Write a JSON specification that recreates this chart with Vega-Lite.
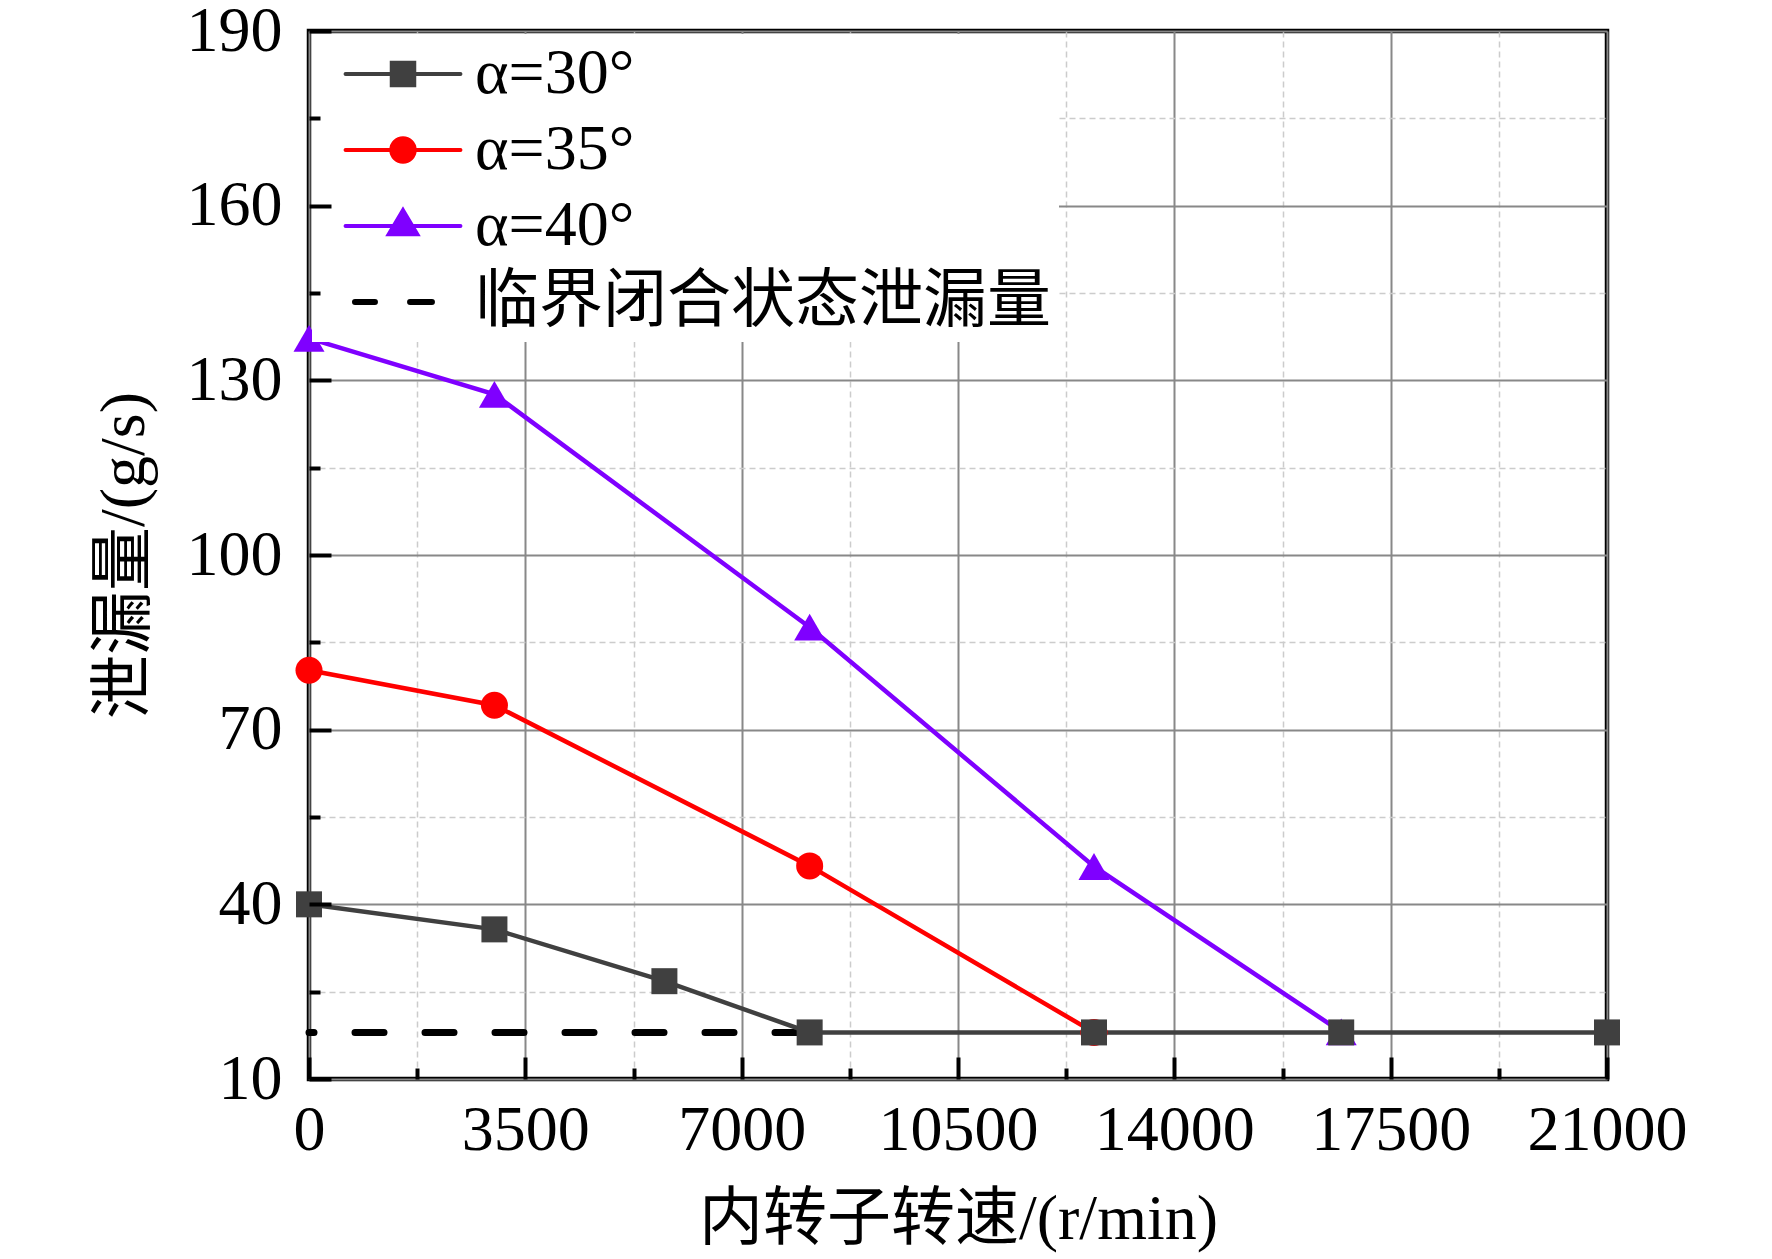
{
  "$schema": "https://vega.github.io/schema/vega-lite/v6.json",
  "width": 1298,
  "height": 1048,
  "autosize": {"type": "none"},
  "padding": {"left": 309, "top": 31, "right": 165, "bottom": 180},
  "background": "white",
  "config": {
    "font": "Liberation Serif, Noto Sans CJK SC",
    "view": {"stroke": "#000000", "strokeWidth": 4.5},
    "axis": {
      "labelFont": "Liberation Serif, Noto Sans CJK SC",
      "labelFontSize": 64,
      "labelColor": "#000000",
      "titleFont": "Liberation Serif, Noto Sans CJK SC",
      "titleFontSize": 64,
      "titleFontWeight": "normal",
      "titleColor": "#000000"
    }
  },
  "data": {
    "values": [
      {"speed": 0, "leak": 137.2, "series": "α=40°"},
      {"speed": 3000, "leak": 127.6, "series": "α=40°"},
      {"speed": 8100, "leak": 87.6, "series": "α=40°"},
      {"speed": 12700, "leak": 46.5, "series": "α=40°"},
      {"speed": 16700, "leak": 18.1, "series": "α=40°"},
      {"speed": 0, "leak": 80.2, "series": "α=35°"},
      {"speed": 3000, "leak": 74.2, "series": "α=35°"},
      {"speed": 8100, "leak": 46.6, "series": "α=35°"},
      {"speed": 12700, "leak": 18.0, "series": "α=35°"},
      {"speed": 0, "leak": 40.0, "series": "α=30°"},
      {"speed": 3000, "leak": 35.7, "series": "α=30°"},
      {"speed": 5750, "leak": 26.8, "series": "α=30°"},
      {"speed": 8100, "leak": 18.0, "series": "α=30°"},
      {"speed": 12700, "leak": 18.0, "series": "α=30°"},
      {"speed": 16700, "leak": 18.0, "series": "α=30°"},
      {"speed": 21000, "leak": 18.0, "series": "α=30°"},
      {"speed": 0, "leak": 18.0, "series": "临界闭合状态泄漏量"},
      {"speed": 8100, "leak": 18.0, "series": "临界闭合状态泄漏量"}
    ]
  },
  "layer": [
    {
      "transform": [{"filter": {"field": "series", "equal": "临界闭合状态泄漏量"}}],
      "mark": {"type": "line", "strokeWidth": 7, "strokeDash": [29, 41], "strokeDashOffset": 24, "strokeCap": "round"},
      "encoding": {
        "x": {
          "field": "speed",
          "type": "quantitative",
          "scale": {"domain": [0, 21000], "nice": false, "zero": false},
          "axis": {
            "orient": "bottom",
            "zindex": 0,
            "grid": true,
            "domain": false,
            "ticks": false,
            "labels": false,
            "title": null,
            "values": [0, 1750, 3500, 5250, 7000, 8750, 10500, 12250, 14000, 15750, 17500, 19250, 21000],
            "gridColor": {"condition": {"test": "datum.value % 3500 === 0", "value": "#888888"}, "value": "#cccccc"},
            "gridDash": {"condition": {"test": "datum.value % 3500 === 0", "value": []}, "value": [6, 4]},
            "gridWidth": {"condition": {"test": "datum.value % 3500 === 0", "value": 2}, "value": 1.5}
          }
        },
        "y": {
          "field": "leak",
          "type": "quantitative",
          "scale": {"domain": [10, 190], "nice": false, "zero": false},
          "axis": {
            "orient": "left",
            "zindex": 0,
            "grid": true,
            "domain": false,
            "ticks": false,
            "labels": false,
            "title": null,
            "values": [10, 25, 40, 55, 70, 85, 100, 115, 130, 145, 160, 175, 190],
            "gridColor": {"condition": {"test": "(datum.value - 10) % 30 === 0", "value": "#888888"}, "value": "#cccccc"},
            "gridDash": {"condition": {"test": "(datum.value - 10) % 30 === 0", "value": []}, "value": [6, 4]},
            "gridWidth": {"condition": {"test": "(datum.value - 10) % 30 === 0", "value": 2}, "value": 1.5}
          }
        },
        "color": {
          "field": "series",
          "type": "nominal",
          "scale": {
            "domain": ["α=30°", "α=35°", "α=40°", "临界闭合状态泄漏量"],
            "range": ["#404040", "#ff0000", "#7f00ff", "#000000"]
          },
          "legend": {
            "title": null,
            "orient": "none",
            "legendX": 3,
            "legendY": 3,
            "fillColor": "#ffffff",
            "padding": 8,
            "rowPadding": 12,
            "symbolSize": 900,
            "symbolStrokeWidth": 4,
            "symbolOffset": 51,
            "labelOffset": 40,
            "labelFont": "Liberation Serif, Noto Sans CJK SC",
            "labelFontSize": 64,
            "labelColor": "#000000",
            "labelLimit": 1000,
            "zindex": 0,
            "encode": {
              "symbols": {
                "update": {
                  "shape": {"signal": "datum.index === 0 ? 'M-3.83,0H3.83M-0.75,-0.75H0.75V0.75H-0.75Z' : datum.index === 1 ? 'M-3.83,0H3.83M-0.78,0A0.78,0.78 0 1,0 0.78,0A0.78,0.78 0 1,0 -0.78,0Z' : datum.index === 2 ? 'M-3.83,0H3.83M0,-1.05L0.95,0.55L-0.95,0.55Z' : 'M-3.2,0H-1.87M0.47,0H1.93'"},
                  "fill": {"scale": "color", "field": "value"},
                  "stroke": {"scale": "color", "field": "value"},
                  "strokeWidth": {"signal": "datum.index === 3 ? 6 : 4"},
                  "strokeCap": {"value": "round"},
                  "opacity": {"value": 1}
                }
              }
            }
          }
        }
      }
    },
    {
      "transform": [{"filter": {"not": {"field": "series", "equal": "临界闭合状态泄漏量"}}}],
      "mark": {"type": "line", "strokeWidth": 4.5},
      "encoding": {
        "x": {
          "field": "speed",
          "type": "quantitative",
          "axis": {
            "orient": "bottom",
            "zindex": 1,
            "grid": false,
            "domain": false,
            "values": [0, 1750, 3500, 5250, 7000, 8750, 10500, 12250, 14000, 15750, 17500, 19250, 21000],
            "format": "d",
            "labelExpr": "datum.value % 3500 === 0 ? datum.label : ''",
            "labelFlush": false,
            "labelOverlap": false,
            "labelPadding": 41,
            "tickColor": "#000000",
            "tickWidth": 4,
            "tickSize": {"condition": {"test": "datum.value % 3500 === 0", "value": -22}, "value": -11},
            "title": "内转子转速/(r/min)",
            "titleX": 649,
            "titleY": 140,
            "titleAlign": "center",
            "titleBaseline": "middle"
          }
        },
        "y": {
          "field": "leak",
          "type": "quantitative",
          "axis": {
            "orient": "left",
            "zindex": 1,
            "grid": false,
            "domain": false,
            "values": [10, 25, 40, 55, 70, 85, 100, 115, 130, 145, 160, 175, 190],
            "format": "d",
            "labelExpr": "(datum.value - 10) % 30 === 0 ? datum.label : ''",
            "labelFlush": false,
            "labelOverlap": false,
            "labelPadding": 49,
            "tickColor": "#000000",
            "tickWidth": 4,
            "tickSize": {"condition": {"test": "(datum.value - 10) % 30 === 0", "value": -22}, "value": -11},
            "title": "泄漏量/(g/s)",
            "titleX": -153,
            "titleY": 524,
            "titleAngle": -90,
            "titleAlign": "center",
            "titleBaseline": "bottom"
          }
        },
        "color": {"field": "series", "type": "nominal"}
      }
    },
    {
      "transform": [{"filter": {"field": "series", "equal": "α=40°"}}],
      "mark": {"type": "point", "shape": "triangle-up", "size": 960, "filled": true, "opacity": 1, "strokeWidth": 0},
      "encoding": {
        "x": {"field": "speed", "type": "quantitative", "axis": null},
        "y": {"field": "leak", "type": "quantitative", "axis": null},
        "color": {"field": "series", "type": "nominal"}
      }
    },
    {
      "transform": [{"filter": {"field": "series", "equal": "α=35°"}}],
      "mark": {"type": "point", "shape": "circle", "size": 729, "filled": true, "opacity": 1, "strokeWidth": 0},
      "encoding": {
        "x": {"field": "speed", "type": "quantitative", "axis": null},
        "y": {"field": "leak", "type": "quantitative", "axis": null},
        "color": {"field": "series", "type": "nominal"}
      }
    },
    {
      "transform": [{"filter": {"field": "series", "equal": "α=30°"}}],
      "mark": {"type": "point", "shape": "square", "size": 676, "filled": true, "opacity": 1, "strokeWidth": 0},
      "encoding": {
        "x": {"field": "speed", "type": "quantitative", "axis": null},
        "y": {"field": "leak", "type": "quantitative", "axis": null},
        "color": {"field": "series", "type": "nominal"}
      }
    }
  ],
  "resolve": {"axis": {"x": "independent", "y": "independent"}}
}
